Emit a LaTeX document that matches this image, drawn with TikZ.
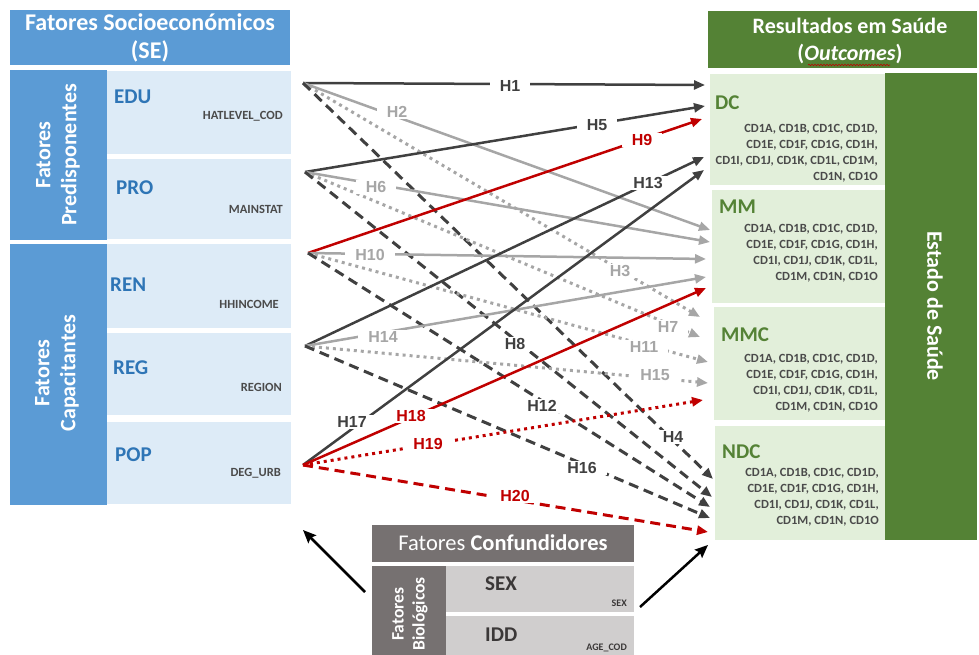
\documentclass[tikz,border=0pt]{standalone}
\usepackage{fontspec}
\setmainfont{Carlito}
\newfontfamily\hfont{Liberation Sans}
\usetikzlibrary{arrows.meta,decorations.pathmorphing}
\definecolor{seblue}{HTML}{5B9BD5}
\definecolor{selight}{HTML}{DDEBF7}
\definecolor{setext}{HTML}{2E75B6}
\definecolor{hsgreen}{HTML}{548235}
\definecolor{hslight}{HTML}{E2EFDA}
\definecolor{cfgray}{HTML}{767171}
\definecolor{cflight}{HTML}{D0CECE}
\definecolor{cftext}{HTML}{3B3838}
\definecolor{txtdark}{HTML}{4A4A4A}
\definecolor{adark}{HTML}{404040}
\definecolor{agray}{HTML}{A6A6A6}
\definecolor{ared}{HTML}{C00000}
\begin{document}
\begin{tikzpicture}[x=1pt,y=-1pt,
  rect/.style={inner sep=0pt, outer sep=0pt, anchor=north west},
  bigttl/.style={text=white, font=\bfseries\fontsize{24}{28}\selectfont, align=center},
  barttl/.style={text=white, font=\bfseries\fontsize{22}{26}\selectfont, align=center},
  abbr/.style={inner sep=0pt, anchor=west, font=\bfseries\fontsize{21}{25}\selectfont},
  varname/.style={inner sep=0pt, anchor=east, text=txtdark, font=\bfseries\fontsize{12.5}{14}\selectfont},
  codes/.style={inner sep=0pt, anchor=north east, align=right, text=txtdark, font=\bfseries\fontsize{12.5}{16}\selectfont},
  hyp/.style={-{Triangle[length=11pt,width=9pt]}},
  hsolid/.style={hyp, line width=2.5pt},
  hdash/.style={hyp, line width=3pt, dash pattern=on 10pt off 6pt},
  hdot/.style={hyp, line width=3pt, dash pattern=on 3pt off 4pt},
  hlab/.style={fill=white, inner xsep=10pt, inner ysep=1pt, font=\hfont\bfseries\fontsize{16}{18}\selectfont},
  confarrow/.style={draw=black, line width=2.5pt, -{Stealth[length=13pt,width=11pt,inset=2pt]}}
]
\useasboundingbox (0,0) rectangle (979,655);

% ---------- Socioeconomic factors ----------
\node[rect, fill=seblue, minimum width=280pt, minimum height=55pt] (sehead) at (10,10) {};
\node[bigttl] (setitle) at (150,38) {Fatores Socioeconómicos\\(SE)};
\node[rect, fill=seblue, minimum width=97pt, minimum height=170pt] (predbar) at (10,70) {};
\node[barttl, rotate=90] (predtxt) at (58,155) {Fatores\\Predisponentes};
\node[rect, fill=seblue, minimum width=97pt, minimum height=261pt] (capbar) at (10,244) {};
\node[barttl, rotate=90] (captxt) at (57,373) {Fatores\\Capacitantes};

\node[rect, fill=selight, minimum width=184pt, minimum height=83pt] (edu) at (107,71) {};
\node[rect, fill=selight, minimum width=184pt, minimum height=80pt] (pro) at (107,159) {};
\node[rect, fill=selight, minimum width=184pt, minimum height=84pt] (ren) at (107,244) {};
\node[rect, fill=selight, minimum width=184pt, minimum height=82pt] (reg) at (107,333) {};
\node[rect, fill=selight, minimum width=184pt, minimum height=82pt] (pop) at (107,422) {};

\node[abbr, text=setext] (edut) at (114,97) {EDU};
\node[varname] (eduv) at (283,116) {HATLEVEL\_COD};
\node[abbr, text=setext] (prot) at (116,188) {PRO};
\node[varname] (prov) at (283,209) {MAINSTAT};
\node[abbr, text=setext] (rent) at (110,285) {REN};
\node[varname] (renv) at (279,304) {HHINCOME};
\node[abbr, text=setext] (regt) at (113,368) {REG};
\node[varname] (regv) at (282,387) {REGION};
\node[abbr, text=setext] (popt) at (115,455) {POP};
\node[varname] (popv) at (281,473) {DEG\_URB};

% ---------- Health outcomes ----------
\node[rect, fill=hsgreen, minimum width=269pt, minimum height=57pt] (hshead) at (708,11) {};
\node[text=white, font=\bfseries\fontsize{22}{27}\selectfont, align=center] (hstitle) at (850,41) {Resultados em Saúde\\(\textit{Outcomes})};
\draw[ared, line width=0.6pt, decorate, decoration={snake, amplitude=0.7pt, segment length=3pt}] (808,65) -- (890,65);
\node[rect, fill=hsgreen, minimum width=92pt, minimum height=467pt] (hsbar) at (885,73) {};
\node[barttl, rotate=-90] (hsbartxt) at (935,306) {Estado de Saúde};

\node[rect, fill=hslight, minimum width=175pt, minimum height=111pt] (dc) at (710,74) {};
\node[rect, fill=hslight, minimum width=173pt, minimum height=113pt] (mm) at (712,190) {};
\node[rect, fill=hslight, minimum width=171pt, minimum height=113pt] (mmc) at (714,307) {};
\node[rect, fill=hslight, minimum width=170pt, minimum height=114pt] (ndc) at (715,426) {};

\node[abbr, text=hsgreen] (dct) at (715,103) {DC};
\node[codes] (dcc) at (878,124) {CD1A, CD1B, CD1C, CD1D,\\CD1E, CD1F, CD1G, CD1H,\\CD1I, CD1J, CD1K, CD1L, CD1M,\\CD1N, CD1O};
\node[abbr, text=hsgreen] (mmt) at (719,207) {MM};
\node[codes] (mmcd) at (878,224) {CD1A, CD1B, CD1C, CD1D,\\CD1E, CD1F, CD1G, CD1H,\\CD1I, CD1J, CD1K, CD1L,\\CD1M, CD1N, CD1O};
\node[abbr, text=hsgreen] (mmct) at (721,335) {MMC};
\node[codes] (mmccd) at (878,354) {CD1A, CD1B, CD1C, CD1D,\\CD1E, CD1F, CD1G, CD1H,\\CD1I, CD1J, CD1K, CD1L,\\CD1M, CD1N, CD1O};
\node[abbr, text=hsgreen] (ndct) at (722,452) {NDC};
\node[codes] (ndccd) at (879,468) {CD1A, CD1B, CD1C, CD1D,\\CD1E, CD1F, CD1G, CD1H,\\CD1I, CD1J, CD1K, CD1L,\\CD1M, CD1N, CD1O};

% ---------- Confounders ----------
\node[rect, fill=cfgray, minimum width=262pt, minimum height=37pt] (cfhead) at (372,525) {};
\node[text=white, font=\fontsize{22.5}{25}\selectfont] (cftitle) at (503,543) {Fatores \textbf{Confundidores}};
\node[rect, fill=cfgray, minimum width=74pt, minimum height=95pt] (biobar) at (372,566) {};
\node[rotate=90, text=white, align=center, font=\bfseries\fontsize{17.5}{21}\selectfont] (biotxt) at (410,614) {Fatores\\Biológicos};
\node[rect, fill=cflight, minimum width=188pt, minimum height=46pt] (sex) at (446,566) {};
\node[rect, fill=cflight, minimum width=188pt, minimum height=45pt] (idd) at (446,616) {};
\node[abbr, text=cftext] (sext) at (485,584) {SEX};
\node[inner sep=0pt, anchor=east, text=cftext, font=\bfseries\fontsize{10}{11}\selectfont] (sexv) at (627,603) {SEX};
\node[abbr, text=cftext] (iddt) at (485,635) {IDD};
\node[inner sep=0pt, anchor=east, text=cftext, font=\bfseries\fontsize{10}{11}\selectfont] (iddv) at (627,648) {AGE\_COD};

\coordinate (cf-l) at (365,592);
\coordinate (cf-ltip) at (303,530);
\coordinate (cf-r) at (640,607);
\coordinate (cf-rtip) at (708,545);
\draw[confarrow] (cf-l) -- (cf-ltip);
\draw[confarrow] (cf-r) -- (cf-rtip);

% ---------- Hypothesis arrows ----------
\coordinate (s-edu) at (303,83);
\coordinate (s-pro) at (305,172);
\coordinate (s-ren) at (308,253);
\coordinate (s-reg) at (305,346);
\coordinate (s-pop) at (303,465);

\coordinate (t1) at (705,85);   \coordinate (t5) at (705,106);
\coordinate (t9) at (702,119);  \coordinate (t13) at (704,157);
\coordinate (t17) at (704,170);
\coordinate (t2) at (710,230);  \coordinate (t6) at (710,242);
\coordinate (t10) at (706,259); \coordinate (t14) at (706,277);
\coordinate (t18) at (706,288);
\coordinate (t3) at (700,317);  \coordinate (t7) at (700,337);
\coordinate (t11) at (708,362); \coordinate (t15) at (708,383);
\coordinate (t19) at (703,400);
\coordinate (t4) at (713,479);  \coordinate (t8) at (712,497);
\coordinate (t12) at (710,507); \coordinate (t16) at (710,518);
\coordinate (t20) at (708,532);

\draw[hsolid, adark] (s-edu) -- (t1);
\draw[hsolid, agray] (s-edu) -- (t2);
\draw[hdot, agray] (s-edu) -- (t3);
\draw[hdash, adark] (s-edu) -- (t4);
\draw[hsolid, adark] (s-pro) -- (t5);
\draw[hsolid, agray] (s-pro) -- (t6);
\draw[hdot, agray] (s-pro) -- (t7);
\draw[hdash, adark] (s-pro) -- (t8);
\draw[hsolid, ared] (s-ren) -- (t9);
\draw[hsolid, agray] (s-ren) -- (t10);
\draw[hdot, agray] (s-ren) -- (t11);
\draw[hdash, adark] (s-ren) -- (t12);
\draw[hsolid, adark] (s-reg) -- (t13);
\draw[hsolid, agray] (s-reg) -- (t14);
\draw[hdot, agray] (s-reg) -- (t15);
\draw[hdash, adark] (s-reg) -- (t16);
\draw[hsolid, adark] (s-pop) -- (t17);
\draw[hsolid, ared] (s-pop) -- (t18);
\draw[hdot, ared] (s-pop) -- (t19);
\draw[hdash, ared] (s-pop) -- (t20);

% labels
\node[hlab, text=adark] (h1) at (510,86) {H1};
\node[hlab, text=agray] (h2) at (397,112) {H2};
\node[hlab, text=agray] (h3) at (620,271) {H3};
\node[hlab, text=adark] (h4) at (673,437) {H4};
\node[hlab, text=adark] (h5) at (597,125) {H5};
\node[hlab, text=agray] (h6) at (376,187) {H6};
\node[hlab, text=agray] (h7) at (668,327) {H7};
\node[hlab, text=adark] (h8) at (515,344) {H8};
\node[hlab, text=ared] (h9) at (642,140) {H9};
\node[hlab, text=agray] (h10) at (370,255) {H10};
\node[hlab, text=agray] (h11) at (644,347) {H11};
\node[hlab, text=adark] (h12) at (542,406) {H12};
\node[hlab, text=adark] (h13) at (648,183) {H13};
\node[hlab, text=agray] (h14) at (383,337) {H14};
\node[hlab, text=agray] (h15) at (655,375) {H15};
\node[hlab, text=adark] (h16) at (582,468) {H16};
\node[hlab, text=adark] (h17) at (352,422) {H17};
\node[hlab, text=ared] (h18) at (411,416) {H18};
\node[hlab, text=ared] (h19) at (428,444) {H19};
\node[hlab, text=ared] (h20) at (515,496) {H20};
\end{tikzpicture}
\end{document}
